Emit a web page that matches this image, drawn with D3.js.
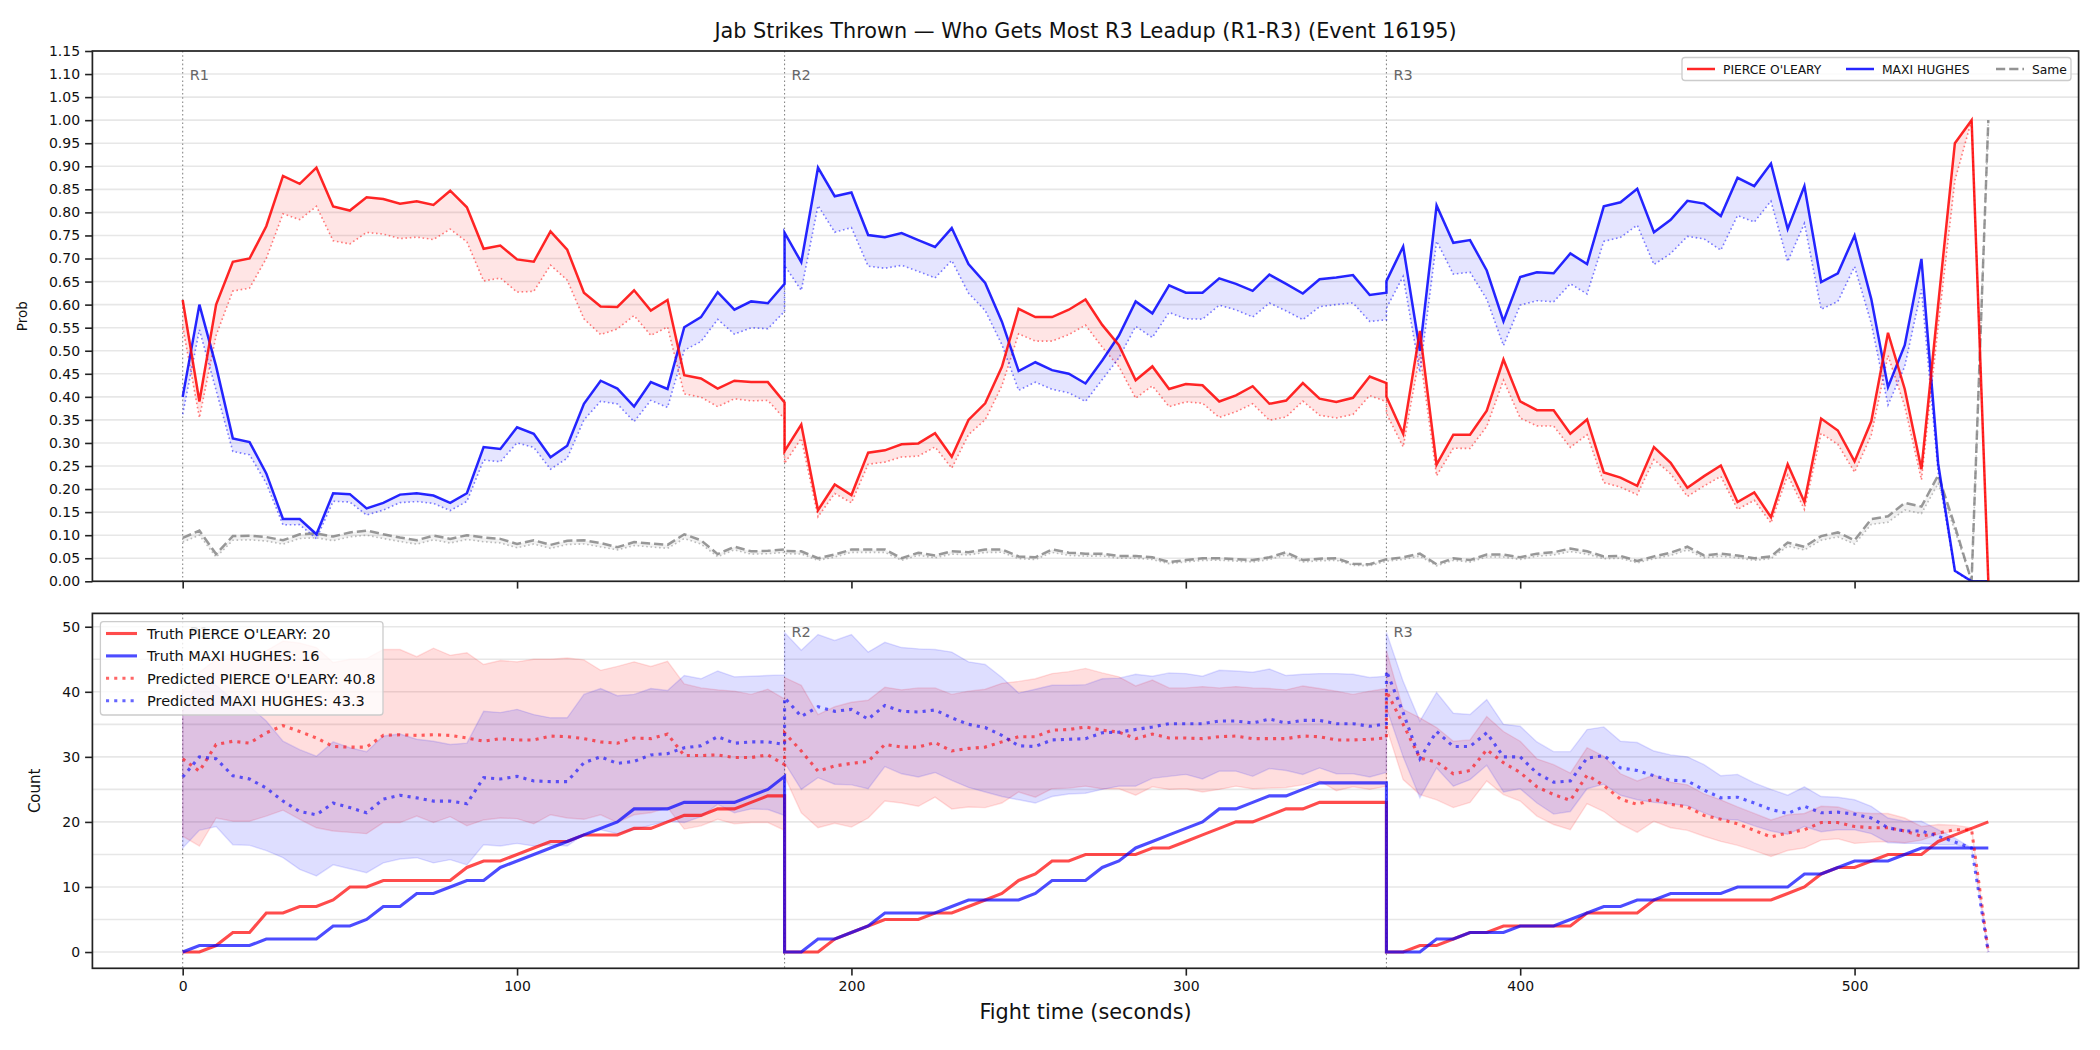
<!DOCTYPE html>
<html>
<head>
<meta charset="utf-8">
<title>Jab Strikes Thrown</title>
<script src="https://cdn.jsdelivr.net/npm/d3@7"></script>
<style>
  body { margin: 0; background: #fff; }
  svg { font-family: "DejaVu Sans", sans-serif; }
</style>
</head>
<body>
<script>
// --- data ---
var titleText = "Jab Strikes Thrown \u2014 Who Gets Most R3 Leadup (R1-R3) (Event 16195)";
var fighterA = "PIERCE O'LEARY";
var fighterB = "MAXI HUGHES";
var roundStarts = [0, 180, 360];
var roundLabels = ["R1", "R2", "R3"];
var sampleStep = 5;          // seconds between samples
var samplesPerRound = 37;    // 0..180 s inside each round

// top panel: raw win probabilities, R1 | R2 | R3
var probPierce = [
  0.61,0.39,0.60,0.693,0.70,0.77,0.879,0.862,0.897,0.813,0.804,0.833,0.829,0.819,0.824,0.816,0.847,0.811,0.721,0.728,0.698,0.693,0.759,0.719,0.626,0.596,0.595,0.631,0.587,0.61,0.447,0.44,0.418,0.435,0.432,0.432,0.388,
  0.282,0.34,0.154,0.21,0.187,0.279,0.284,0.297,0.299,0.321,0.27,0.35,0.386,0.465,0.591,0.573,0.573,0.589,0.611,0.556,0.512,0.436,0.466,0.417,0.428,0.425,0.39,0.403,0.423,0.385,0.392,0.43,0.396,0.389,0.398,0.444,0.43,
  0.40,0.32,0.543,0.253,0.318,0.318,0.37,0.481,0.39,0.371,0.371,0.32,0.351,0.236,0.225,0.207,0.291,0.257,0.203,0.228,0.251,0.172,0.193,0.139,0.254,0.172,0.353,0.327,0.26,0.347,0.539,0.417,0.243,0.60,0.95,1.0,0.0
];
var probMaxi = [
  0.40,0.60,0.466,0.31,0.302,0.234,0.135,0.135,0.102,0.191,0.189,0.158,0.17,0.188,0.191,0.186,0.17,0.191,0.291,0.287,0.334,0.32,0.269,0.294,0.385,0.435,0.418,0.379,0.432,0.417,0.551,0.573,0.627,0.589,0.607,0.603,0.645,
  0.756,0.692,0.897,0.835,0.843,0.751,0.746,0.755,0.74,0.725,0.766,0.688,0.647,0.563,0.456,0.475,0.458,0.45,0.429,0.479,0.533,0.607,0.581,0.642,0.626,0.626,0.657,0.645,0.63,0.665,0.645,0.624,0.655,0.659,0.664,0.621,0.626,
  0.651,0.726,0.5,0.815,0.734,0.74,0.674,0.564,0.66,0.67,0.668,0.711,0.688,0.813,0.822,0.851,0.757,0.784,0.825,0.819,0.792,0.875,0.857,0.906,0.764,0.857,0.649,0.668,0.75,0.612,0.421,0.512,0.699,0.255,0.023,0.0,0.0
];
var probSame = [
  0.094,0.11,0.059,0.098,0.099,0.096,0.089,0.102,0.104,0.097,0.106,0.11,0.102,0.095,0.089,0.099,0.092,0.10,0.095,0.092,0.081,0.089,0.079,0.088,0.089,0.083,0.074,0.085,0.082,0.079,0.102,0.089,0.059,0.075,0.065,0.066,0.069,
  0.066,0.065,0.05,0.058,0.069,0.069,0.069,0.05,0.062,0.056,0.065,0.063,0.069,0.069,0.054,0.052,0.069,0.062,0.06,0.06,0.055,0.055,0.052,0.042,0.046,0.05,0.05,0.048,0.046,0.052,0.063,0.046,0.049,0.05,0.038,0.037,0.048,
  0.048,0.052,0.06,0.037,0.05,0.046,0.058,0.058,0.052,0.06,0.063,0.071,0.065,0.054,0.055,0.044,0.054,0.062,0.075,0.056,0.06,0.056,0.05,0.054,0.084,0.075,0.098,0.106,0.089,0.135,0.141,0.17,0.162,0.23,0.12,0.0,1.0
];

// bottom panel: counts per round
var truthPierce = [
  0,0,1,3,3,6,6,7,7,8,10,10,11,11,11,11,11,13,14,14,15,16,17,17,18,18,18,19,19,20,21,21,22,22,23,24,24,
  0,0,0,2,3,4,5,5,5,6,6,7,8,9,11,12,14,14,15,15,15,15,16,16,17,18,19,20,20,21,22,22,23,23,23,23,23,
  0,0,1,1,2,3,3,4,4,4,4,4,6,6,6,6,8,8,8,8,8,8,8,8,9,10,12,13,13,14,15,15,15,17,18,19,20
];
var truthMaxi = [
  0,1,1,1,1,2,2,2,2,4,4,5,7,7,9,9,10,11,11,13,14,15,16,17,18,19,20,22,22,22,23,23,23,23,24,25,27,
  0,0,2,2,3,4,6,6,6,6,7,8,8,8,8,9,11,11,11,13,14,16,17,18,19,20,22,22,23,24,24,25,26,26,26,26,26,
  0,0,0,2,2,3,3,3,4,4,4,5,6,7,7,8,8,9,9,9,9,10,10,10,10,12,12,13,14,14,14,15,16,16,16,16,16
];
var predPierce = [
  29.7,27.8,31.9,32.4,32.1,33.7,34.8,33.9,32.9,31.6,31.5,31.5,33.3,33.4,33.3,33.4,33.3,32.9,32.4,32.8,32.6,32.6,33.2,33.1,32.8,32.3,32.1,32.9,32.8,33.5,30.2,30.2,30.3,29.9,29.9,30.3,28.8,
  33.7,30.9,27.8,28.6,29.0,29.3,31.9,31.5,31.5,32.2,30.9,31.3,31.5,32.3,33.1,33.1,34.1,34.2,34.6,34.1,33.8,32.8,33.5,32.9,32.9,32.8,33.1,33.2,32.8,32.8,32.8,33.2,33.1,32.6,32.6,32.7,32.9,
  40.1,35.0,29.8,29.2,27.4,27.9,31.1,29.1,27.6,25.4,24.2,23.3,27.2,25.6,23.5,22.7,23.5,22.7,22.3,21.0,20.4,19.7,18.7,17.7,18.3,18.8,19.9,19.9,19.3,19.1,19.1,18.6,17.8,18.3,18.8,18.8,0
];
var predMaxi = [
  26.9,30.0,29.7,27.1,26.6,25.2,23.2,21.6,21.1,22.9,22.2,21.4,23.5,24.1,23.7,23.2,23.2,22.8,26.8,26.6,27.0,26.3,26.2,26.2,29.1,30.0,29.0,29.3,30.3,30.5,31.4,31.7,33.1,32.1,32.3,32.3,31.9,
  39.1,36.2,37.7,37.0,37.3,35.8,37.9,37.0,36.9,37.2,36.0,35.0,34.5,33.3,31.7,31.6,32.6,32.7,32.8,33.7,33.8,34.2,34.6,35.1,35.1,35.1,35.5,35.5,35.2,35.8,35.2,35.6,35.6,35.1,35.1,34.7,35.1,
  43.2,36.8,29.7,33.9,31.6,31.6,33.7,30.0,30.0,27.5,26.1,26.3,29.8,30.2,28.3,27.9,27.1,26.4,26.3,24.9,23.7,23.8,22.9,21.9,21.3,22.4,21.4,21.5,21.2,20.6,19.1,18.6,18.6,17.8,16.9,16.0,0
];
var pierceLow = [
  17.8,16.3,20.6,20.1,20.1,20.9,21.8,20.4,19.1,18.6,18.4,18.2,19.9,19.9,20.9,19.9,20.8,19.4,20.3,20.6,20.5,19.7,21.1,20.6,20.4,21.1,19.9,21.1,21.4,22.2,18.9,19.4,20.4,19.7,19.9,19.9,18.7,
  27.0,21.4,19.1,19.8,19.2,20.6,23.2,22.9,22.4,23.8,22.0,22.3,22.2,22.9,24.6,23.8,25.1,25.2,25.5,25.1,25.1,24.1,25.4,25.0,25.1,24.6,25.0,25.5,25.1,25.2,25.3,25.7,26.3,24.8,25.4,25.0,25.5,
  34.5,26.5,24.2,23.4,22.2,23.0,26.3,24.2,23.2,20.9,19.6,18.8,22.8,21.6,19.7,18.4,20.1,19.1,18.7,17.8,17.0,16.4,15.6,14.7,15.6,16.0,17.2,17.4,16.7,16.9,17.0,16.8,17.2,18.1,18.6,18.8,0
];
var pierceHigh = [
  40,43,45,46,46,46.3,47.8,47.5,46.8,44.5,45.0,45.1,46.5,46.5,45.4,46.7,45.6,46.0,44.2,44.8,44.6,45.0,45.0,45.2,44.9,43.3,43.9,44.6,43.9,44.7,41.2,40.6,40.3,40.1,39.6,40.4,38.9,
  42.2,41.0,36.5,37.7,38.4,38.7,40.7,40.3,40.6,40.6,39.6,40.1,40.4,41.3,41.6,42.0,42.8,43.1,43.6,42.9,42.3,40.9,41.8,40.6,40.6,40.8,40.6,40.8,40.6,40.5,40.3,40.9,40.5,40.1,39.6,40.1,40.5,
  46.3,37.3,36.0,34.5,32.4,32.6,36.2,33.9,32.4,29.7,28.8,27.5,31.4,30.1,27.4,26.3,27.2,26.1,25.7,24.3,23.4,22.3,21.3,20.3,21.1,21.3,22.4,22.3,21.5,21.3,21.3,20.6,19.3,19.6,19.5,19.1,0
];
var maxiLow = [
  16.0,18.7,19.3,16.5,16.4,15.6,14.5,12.7,11.7,13.4,12.8,12.2,13.7,14.3,14.5,13.7,14.2,13.4,16.5,16.3,16.7,16.3,16.5,16.3,18.1,18.8,18.2,18.8,19.5,20.1,19.9,20.8,22.7,21.4,22.0,21.9,21.0,
  29.1,25.0,26.8,25.8,25.7,25.1,28.5,27.4,26.9,27.6,26.4,25.3,24.6,23.9,23.4,22.9,23.9,24.3,24.4,25.0,25.5,25.5,26.7,27.0,27.3,26.6,27.8,27.8,27.0,28.2,27.9,27.3,28.3,27.4,27.4,26.9,27.6,
  37.5,30.0,23.7,28.3,25.5,26.5,28.7,24.6,25.1,22.9,21.2,21.6,25.1,25.8,24.1,23.4,23.0,22.8,22.5,21.4,20.4,20.3,19.4,18.6,18.1,19.3,18.5,18.8,18.8,18.2,16.8,16.7,16.7,16.5,16.5,16.0,0
];
var maxiHigh = [
  37,41.9,41,38.8,37.8,35.5,32.4,31.1,30.1,32.3,31.4,30.8,33.2,33.5,32.7,32.4,31.9,32.1,37.0,36.8,37.3,36.5,36.0,36.0,39.6,40.5,39.4,39.6,40.5,40.2,42.5,42.0,43.2,42.3,42.4,42.5,42.6,
  49.1,46.4,48.8,47.9,48.8,46.1,47.6,46.8,46.6,46.5,46.1,44.6,44.2,42.2,39.8,40.4,41.0,41.0,41.1,42.0,42.1,42.7,42.4,42.9,42.8,42.4,43.3,43.2,43.0,43.5,42.5,42.7,42.8,42.8,42.7,42.2,42.4,
  49.1,41.6,35.5,39.9,36.7,36.5,38.8,35.0,34.7,32.3,30.8,30.8,34.2,34.6,32.4,32.2,30.9,30.3,30.0,28.8,27.1,27.3,26.0,25.0,24.1,25.4,23.9,23.8,23.4,22.4,20.6,20.1,20.1,18.8,17.5,16.0,0
];
var finalPredPierce = 40.8, finalPredMaxi = 43.3;

// --- build rows ---
var times = [];
roundStarts.forEach(function (s) {
    d3.range(samplesPerRound).forEach(function (i) { times.push(s + i * sampleStep); });
});
var rows = times.map(function (t, i) {
    // dotted lines in the top panel: the three probabilities renormalised to sum to 1
    var tot = probPierce[i] + probMaxi[i] + probSame[i];
    return {
        t: t,
        pA: probPierce[i], pB: probMaxi[i], pS: probSame[i],
        nA: probPierce[i] / tot, nB: probMaxi[i] / tot, nS: probSame[i] / tot,
        trA: truthPierce[i], trB: truthMaxi[i],
        prA: predPierce[i], prB: predMaxi[i],
        loA: pierceLow[i], hiA: pierceHigh[i], loB: maxiLow[i], hiB: maxiHigh[i]
    };
});

// --- layout ---
var width = 2100, height = 1050;
var left = 92.4, right = 2078.6;
var top1 = 51, bot1 = 581.3, top2 = 613.4, bot2 = 968.3;
var RED = "#ff0000", BLUE = "#0000ff", GRAY = "#808080";

var svg = d3.select("body").append("svg")
    .attr("width", width).attr("height", height);
svg.append("rect").attr("width", width).attr("height", height).attr("fill", "#fff");

var x = d3.scaleLinear().domain([-27, 567]).range([left, right]);
var yP = d3.scaleLinear().domain([0, 1.15]).range([bot1, top1]);
var yC = d3.scaleLinear().domain([-2.5, 52.05]).range([bot2, top2]);

var defs = svg.append("defs");
defs.append("clipPath").attr("id", "clipTop").append("rect")
    .attr("x", left).attr("y", top1).attr("width", right - left).attr("height", bot1 - top1);
defs.append("clipPath").attr("id", "clipBot").append("rect")
    .attr("x", left).attr("y", top2).attr("width", right - left).attr("height", bot2 - top2);

var xTicks = [0, 100, 200, 300, 400, 500];

// ================= top panel =================
var gTop = svg.append("g");
var probTicks = d3.range(0, 24).map(function (i) { return i * 0.05; });
gTop.selectAll(".gridP").data(probTicks).enter().append("line")
    .attr("x1", left).attr("x2", right)
    .attr("y1", function (d) { return yP(d); }).attr("y2", function (d) { return yP(d); })
    .attr("stroke", "#b0b0b0").attr("stroke-opacity", 0.3).attr("stroke-width", 1.6);

var plotTop = gTop.append("g").attr("clip-path", "url(#clipTop)");

// round markers
roundStarts.forEach(function (s, i) {
    plotTop.append("line").attr("x1", x(s)).attr("x2", x(s)).attr("y1", top1).attr("y2", bot1)
        .attr("stroke", "#555").attr("stroke-opacity", 0.7).attr("stroke-width", 1.1)
        .attr("stroke-dasharray", "1.6,2.6");
    gTop.append("text").attr("x", x(s) + 7).attr("y", 80)
        .attr("font-size", 14.5).attr("fill", "#666").text(roundLabels[i]);
});

var probSeries = [
    {raw: "pA", norm: "nA", color: RED},
    {raw: "pB", norm: "nB", color: BLUE},
    {raw: "pS", norm: "nS", color: GRAY}
];
probSeries.forEach(function (s) {
    var band = d3.area()
        .x(function (d) { return x(d.t); })
        .y0(function (d) { return yP(d[s.norm]); })
        .y1(function (d) { return yP(d[s.raw]); });
    plotTop.append("path").datum(rows).attr("d", band)
        .attr("fill", s.color).attr("fill-opacity", 0.1);
    var normLine = d3.line()
        .x(function (d) { return x(d.t); })
        .y(function (d) { return yP(d[s.norm]); });
    plotTop.append("path").datum(rows).attr("d", normLine)
        .attr("fill", "none").attr("stroke", s.color).attr("stroke-opacity", 0.5)
        .attr("stroke-width", 1.6).attr("stroke-dasharray", "1.6,2.7");
});
probSeries.slice().reverse().forEach(function (s) {
    var rawLine = d3.line()
        .x(function (d) { return x(d.t); })
        .y(function (d) { return yP(d[s.raw]); });
    plotTop.append("path").datum(rows).attr("d", rawLine)
        .attr("fill", "none").attr("stroke", s.color)
        .attr("stroke-opacity", s.color === GRAY ? 0.8 : 0.85)
        .attr("stroke-width", 2.5)
        .attr("stroke-dasharray", s.color === GRAY ? "9.2,4" : null);
});

// axes
var axP = gTop.append("g").attr("transform", "translate(" + left + ",0)")
    .call(d3.axisLeft(yP).tickValues(probTicks).tickFormat(d3.format(".2f"))
        .tickSize(7.3).tickPadding(5).tickSizeOuter(0));
var axPx = gTop.append("g").attr("transform", "translate(0," + bot1 + ")")
    .call(d3.axisBottom(x).tickValues(xTicks).tickFormat("").tickSize(7.3).tickSizeOuter(0));
[axP, axPx].forEach(function (a) {
    a.select(".domain").remove();
    a.selectAll(".tick line").attr("stroke", "#222").attr("stroke-width", 1.6);
    a.selectAll("text").attr("font-size", 14).attr("fill", "#111")
        .attr("font-family", "DejaVu Sans");
});
gTop.append("rect").attr("x", left).attr("y", top1).attr("width", right - left).attr("height", bot1 - top1)
    .attr("fill", "none").attr("stroke", "#222").attr("stroke-width", 1.7);
gTop.append("text").attr("transform", "translate(27," + (top1 + bot1) / 2 + ") rotate(-90)")
    .attr("text-anchor", "middle").attr("font-size", 13.5).attr("fill", "#111").text("Prob");

// top legend
var lgTop = gTop.append("g");
lgTop.append("rect").attr("x", 1682).attr("y", 57.5).attr("width", 389).attr("height", 23)
    .attr("rx", 3).attr("fill", "#fff").attr("fill-opacity", 0.8).attr("stroke", "#ccc").attr("stroke-width", 1.3);
var topEntries = [
    {label: fighterA, color: RED, x0: 1687, dash: null},
    {label: fighterB, color: BLUE, x0: 1846, dash: null},
    {label: "Same", color: GRAY, x0: 1996, dash: "9.2,4"}
];
topEntries.forEach(function (e) {
    lgTop.append("line").attr("x1", e.x0).attr("x2", e.x0 + 28).attr("y1", 69).attr("y2", 69)
        .attr("stroke", e.color).attr("stroke-opacity", 0.85).attr("stroke-width", 2.5)
        .attr("stroke-dasharray", e.dash);
    lgTop.append("text").attr("x", e.x0 + 36).attr("y", 73.5).attr("font-size", 12.3)
        .attr("fill", "#111").text(e.label);
});

// ================= bottom panel =================
var gBot = svg.append("g");
var countGrid = d3.range(0, 55, 5);
gBot.selectAll(".gridC").data(countGrid).enter().append("line")
    .attr("x1", left).attr("x2", right)
    .attr("y1", function (d) { return yC(d); }).attr("y2", function (d) { return yC(d); })
    .attr("stroke", "#b0b0b0").attr("stroke-opacity", 0.3).attr("stroke-width", 1.6);

var plotBot = gBot.append("g").attr("clip-path", "url(#clipBot)");
roundStarts.forEach(function (s, i) {
    plotBot.append("line").attr("x1", x(s)).attr("x2", x(s)).attr("y1", top2).attr("y2", bot2)
        .attr("stroke", "#555").attr("stroke-opacity", 0.7).attr("stroke-width", 1.1)
        .attr("stroke-dasharray", "1.6,2.6");
    gBot.append("text").attr("x", x(s) + 7).attr("y", 637)
        .attr("font-size", 14.5).attr("fill", "#666").text(roundLabels[i]);
});

var bands = [
    {lo: "loA", hi: "hiA", color: RED},
    {lo: "loB", hi: "hiB", color: BLUE}
];
bands.forEach(function (b) {
    var area = d3.area()
        .x(function (d) { return x(d.t); })
        .y0(function (d) { return yC(d[b.lo]); })
        .y1(function (d) { return yC(d[b.hi]); });
    plotBot.append("path").datum(rows).attr("d", area)
        .attr("fill", b.color).attr("fill-opacity", 0.13)
        .attr("stroke", b.color).attr("stroke-opacity", 0.12).attr("stroke-width", 1.4);
});

var countLines = [
    {key: "trA", color: RED, dotted: false},
    {key: "trB", color: BLUE, dotted: false},
    {key: "prA", color: RED, dotted: true},
    {key: "prB", color: BLUE, dotted: true}
];
countLines.forEach(function (c) {
    var ln = d3.line()
        .x(function (d) { return x(d.t); })
        .y(function (d) { return yC(d[c.key]); });
    plotBot.append("path").datum(rows).attr("d", ln)
        .attr("fill", "none").attr("stroke", c.color)
        .attr("stroke-opacity", c.dotted ? 0.6 : 0.7)
        .attr("stroke-width", 3.1)
        .attr("stroke-dasharray", c.dotted ? "3.1,5.1" : null);
});

var axC = gBot.append("g").attr("transform", "translate(" + left + ",0)")
    .call(d3.axisLeft(yC).tickValues([0, 10, 20, 30, 40, 50]).tickFormat(d3.format("d"))
        .tickSize(7.3).tickPadding(5).tickSizeOuter(0));
var axCx = gBot.append("g").attr("transform", "translate(0," + bot2 + ")")
    .call(d3.axisBottom(x).tickValues(xTicks).tickFormat(d3.format("d"))
        .tickSize(7.3).tickPadding(5).tickSizeOuter(0));
[axC, axCx].forEach(function (a) {
    a.select(".domain").remove();
    a.selectAll(".tick line").attr("stroke", "#222").attr("stroke-width", 1.6);
    a.selectAll("text").attr("font-size", 14).attr("fill", "#111")
        .attr("font-family", "DejaVu Sans");
});
gBot.append("rect").attr("x", left).attr("y", top2).attr("width", right - left).attr("height", bot2 - top2)
    .attr("fill", "none").attr("stroke", "#222").attr("stroke-width", 1.7);
gBot.append("text").attr("transform", "translate(40," + (top2 + bot2) / 2 + ") rotate(-90)")
    .attr("text-anchor", "middle").attr("font-size", 15).attr("fill", "#111").text("Count");

// bottom legend
var lgBot = gBot.append("g");
lgBot.append("rect").attr("x", 100.4).attr("y", 621.7).attr("width", 282.6).attr("height", 93.3)
    .attr("rx", 3).attr("fill", "#fff").attr("fill-opacity", 0.8).attr("stroke", "#ccc").attr("stroke-width", 1.3);
var lastA = truthPierce[truthPierce.length - 1], lastB = truthMaxi[truthMaxi.length - 1];
var botEntries = [
    {label: "Truth " + fighterA + ": " + lastA, color: RED, dotted: false},
    {label: "Truth " + fighterB + ": " + lastB, color: BLUE, dotted: false},
    {label: "Predicted " + fighterA + ": " + finalPredPierce, color: RED, dotted: true},
    {label: "Predicted " + fighterB + ": " + finalPredMaxi, color: BLUE, dotted: true}
];
botEntries.forEach(function (e, i) {
    var yy = 633.5 + i * 22.4;
    lgBot.append("line").attr("x1", 106).attr("x2", 137).attr("y1", yy).attr("y2", yy)
        .attr("stroke", e.color).attr("stroke-opacity", e.dotted ? 0.6 : 0.7).attr("stroke-width", 3.1)
        .attr("stroke-dasharray", e.dotted ? "3.1,5.1" : null);
    lgBot.append("text").attr("x", 147).attr("y", yy + 5.2).attr("font-size", 14.5)
        .attr("fill", "#111").text(e.label);
});

// titles
svg.append("text").attr("x", (left + right) / 2).attr("y", 38).attr("text-anchor", "middle")
    .attr("font-size", 20.8).attr("fill", "#111").text(titleText);
svg.append("text").attr("x", (left + right) / 2).attr("y", 1019).attr("text-anchor", "middle")
    .attr("font-size", 20.8).attr("fill", "#111").text("Fight time (seconds)");
</script>
</body>
</html>
